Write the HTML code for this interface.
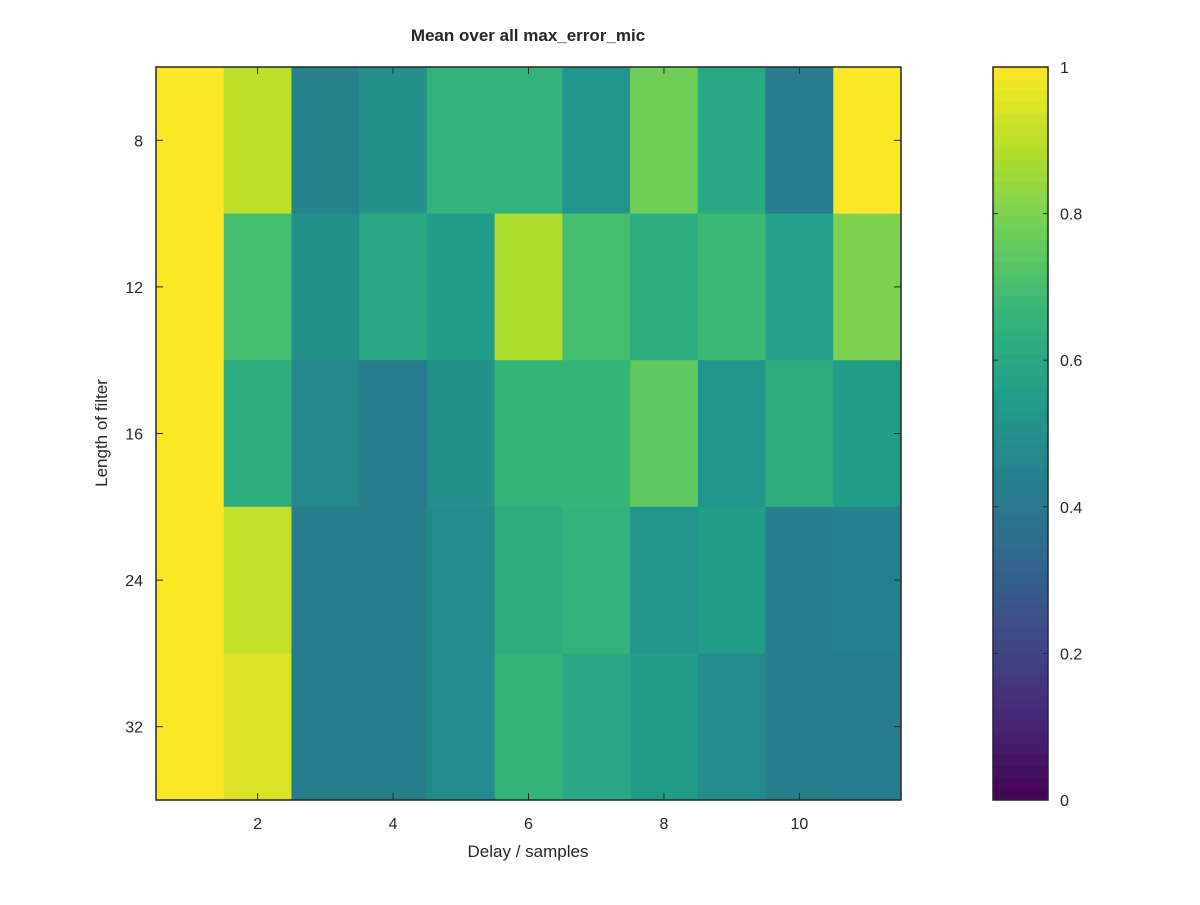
<!DOCTYPE html>
<html><head><meta charset="utf-8">
<style>
body{margin:0;background:#fff;}
svg text{font-family:"Liberation Sans",sans-serif;fill:#262626;}
</style></head>
<body>
<svg id="chart" width="1200" height="900" viewBox="0 0 1200 900" xmlns="http://www.w3.org/2000/svg">
<rect width="1200" height="900" fill="#fff"/>
<g id="cells"></g>
<g id="cbar"></g>
<g id="axes"></g>
<text x="528" y="41" font-size="17" font-weight="bold" text-anchor="middle">Mean over all max_error_mic</text>
<text x="528" y="857" font-size="17" text-anchor="middle">Delay / samples</text>
<text x="107" y="433" font-size="17" text-anchor="middle" transform="rotate(-90 107 433)">Length of filter</text>
</svg>
<script>
const rowLabels=[8,12,16,24,32];
const xTickValues=[2,4,6,8,10];
const row8 =[1,0.9,0.45,0.5,0.65,0.65,0.52,0.78,0.6,0.42,1];
const row12=[1,0.7,0.5,0.6,0.55,0.88,0.7,0.62,0.68,0.57,0.8];
const row16=[1,0.62,0.47,0.42,0.5,0.66,0.66,0.75,0.52,0.62,0.55];
const row24=[1,0.91,0.43,0.43,0.48,0.62,0.65,0.52,0.55,0.43,0.44];
const row32=[1,0.95,0.43,0.43,0.48,0.66,0.6,0.55,0.48,0.43,0.42];
const cbTicks=[0,0.2,0.4,0.6,0.8,1];
const rows=[row8,row12,row16,row24,row32];

const NS="http://www.w3.org/2000/svg";
const L=156,R=901,T=67,B=800,nC=11,nR=5;
const cw=(R-L)/nC, rh=(B-T)/nR;
const xPos=c=>L+(c-0.5)*cw;
const yRow=r=>T+r*rh;
const vir=["#440154","#482878","#3e4989","#31688e","#26828e","#1f9e89","#35b779","#6ece58","#b5de2b","#fde725"];
function hex(h){return [1,3,5].map(i=>parseInt(h.substr(i,2),16));}
function cmap(v){v=Math.max(0,Math.min(1,v));const p=v*(vir.length-1);const i=Math.min(Math.floor(p),vir.length-2);const f=p-i;
const a=hex(vir[i]),b=hex(vir[i+1]);return "rgb("+a.map((x,k)=>Math.round(x+(b[k]-x)*f)).join(",")+")";}
function mk(tag,attrs,parent){const e=document.createElementNS(NS,tag);for(const k in attrs)e.setAttribute(k,attrs[k]);parent.appendChild(e);return e;}

const cells=document.getElementById("cells");
rows.forEach((row,r)=>row.forEach((v,c)=>{
 const e=mk("rect",{x:L+c*cw,y:yRow(r),width:cw+0.5,height:rh+0.5,fill:cmap(v)},cells);
 
 
}));

const axes=document.getElementById("axes");
mk("rect",{x:L,y:T,width:R-L,height:B-T,fill:"none",stroke:"#262626","stroke-width":1.5},axes);
xTickValues.forEach(v=>{const x=xPos(v);
 mk("line",{x1:x,x2:x,y1:B,y2:B-7,stroke:"#262626"},axes);
 mk("line",{x1:x,x2:x,y1:T,y2:T+7,stroke:"#262626"},axes);
 const t=mk("text",{x:x,y:B+29,"font-size":16,"text-anchor":"middle"},axes);t.textContent=v;
 
 
});
rowLabels.forEach((v,r)=>{const y=yRow(r)+rh/2;
 mk("line",{x1:L,x2:L+7,y1:y,y2:y,stroke:"#262626"},axes);
 mk("line",{x1:R,x2:R-7,y1:y,y2:y,stroke:"#262626"},axes);
 const t=mk("text",{x:L-13,y:y+6,"font-size":16,"text-anchor":"end"},axes);t.textContent=v;
 
 
});

const cb=document.getElementById("cbar");
const cL=993,cR=1048,N=64,bh=(B-T)/N;
for(let i=0;i<N;i++){mk("rect",{x:cL,y:B-(i+1)*bh,width:cR-cL,height:bh+0.5,fill:cmap((i+0.5)/N)},cb);}
mk("rect",{x:cL,y:T,width:cR-cL,height:B-T,fill:"none",stroke:"#262626","stroke-width":1.5},cb);
cbTicks.forEach(v=>{const y=B-v*(B-T);
 mk("line",{x1:cL,x2:cL+5,y1:y,y2:y,stroke:"#262626"},cb);
 mk("line",{x1:cR,x2:cR-5,y1:y,y2:y,stroke:"#262626"},cb);
 const t=mk("text",{x:cR+12,y:y+6,"font-size":16},cb);t.textContent=String(v);
 
 
});
</script>
</body></html>
